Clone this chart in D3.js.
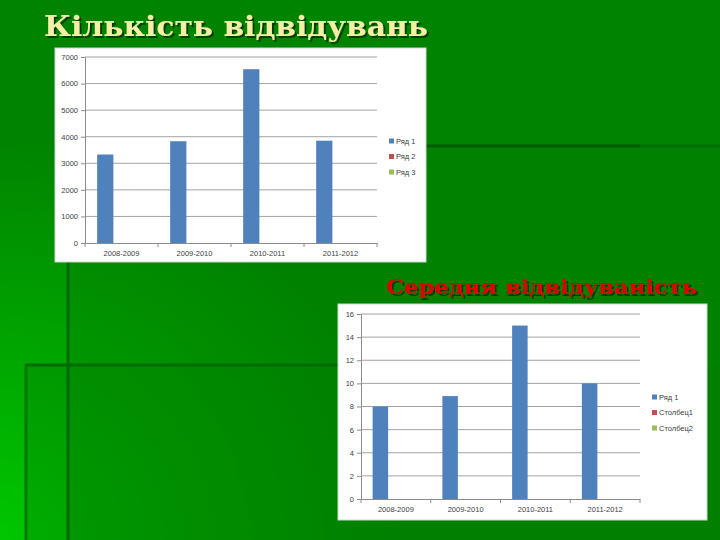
<!DOCTYPE html>
<html><head><meta charset="utf-8">
<script src="https://cdn.jsdelivr.net/npm/d3@7"></script>
<style>html,body{margin:0;padding:0;background:#008400;}svg{display:block;}</style>
</head><body>
<script>
// ---- data ----
const title1 = "Кількість відвідувань";
const title2 = "Середня відвідуваність";
const categories = ["2008-2009", "2009-2010", "2010-2011", "2011-2012"];
const visits = [3330, 3830, 6540, 3850];
const avgAttendance = [8, 8.9, 15, 10];
const visitsTicks = [0, 1000, 2000, 3000, 4000, 5000, 6000, 7000];
const avgTicks = [0, 2, 4, 6, 8, 10, 12, 14, 16];
const legend1 = ["Ряд 1", "Ряд 2", "Ряд 3"];
const legend2 = ["Ряд 1", "Столбец1", "Столбец2"];
const seriesColors = ["#4F81BD", "#C0504D", "#9BBB59"];

const W = 720, H = 540;
const svg = d3.select("body").append("svg").attr("width", W).attr("height", H);
const defs = svg.append("defs");

// background gradient
const rg = defs.append("radialGradient").attr("id", "bg")
  .attr("gradientUnits", "userSpaceOnUse").attr("cx", 0).attr("cy", 540).attr("r", 400);
rg.append("stop").attr("offset", "0").attr("stop-color", "#00cc00");
rg.append("stop").attr("offset", "0.45").attr("stop-color", "#00aa00");
rg.append("stop").attr("offset", "1").attr("stop-color", "#008400");
const lg = defs.append("linearGradient").attr("id", "bgTop").attr("x1", 0).attr("y1", 0).attr("x2", 0).attr("y2", 1);
lg.append("stop").attr("offset", "0").attr("stop-color", "#007c00");
lg.append("stop").attr("offset", "1").attr("stop-color", "#009600");
const sh = defs.append("filter").attr("id", "shadow").attr("x", "-5%").attr("y", "-20%").attr("width", "115%").attr("height", "150%");
sh.append("feDropShadow").attr("dx", 2).attr("dy", 2).attr("stdDeviation", 0.6)
  .attr("flood-color", "#003000").attr("flood-opacity", 0.85);

svg.append("rect").attr("width", W).attr("height", H).attr("fill", "url(#bgTop)");
svg.append("rect").attr("width", W).attr("height", H).attr("fill", "url(#bg)").attr("opacity", 0.9);
// overlay panels
svg.append("rect").attr("x", 67).attr("y", 146).attr("width", W - 67).attr("height", H - 146)
  .attr("fill", "#007a00").attr("opacity", 0.35);
svg.append("rect").attr("x", 25).attr("y", 365).attr("width", W - 25).attr("height", H - 365)
  .attr("fill", "#007a00").attr("opacity", 0.3);
// decorative lines
svg.append("line").attr("x1", 67).attr("x2", 640).attr("y1", 146).attr("y2", 146)
  .attr("stroke", "#005a00").attr("stroke-width", 3);
svg.append("line").attr("x1", 640).attr("x2", 720).attr("y1", 146).attr("y2", 146)
  .attr("stroke", "#006e00").attr("stroke-width", 3);
svg.append("line").attr("x1", 68).attr("x2", 68).attr("y1", 146).attr("y2", 540)
  .attr("stroke", "#006800").attr("stroke-width", 3);
svg.append("line").attr("x1", 25).attr("x2", 340).attr("y1", 365).attr("y2", 365)
  .attr("stroke", "#006c00").attr("stroke-width", 3);
svg.append("line").attr("x1", 26).attr("x2", 26).attr("y1", 365).attr("y2", 540)
  .attr("stroke", "#007800").attr("stroke-width", 3);

// titles
function title(txt, x, y, len, size, fill) {
  svg.append("text").attr("x", x).attr("y", y).text(txt)
    .attr("font-family", "DejaVu Serif").attr("font-weight", "bold").attr("font-size", size)
    .attr("textLength", len).attr("lengthAdjust", "spacingAndGlyphs").attr("fill", fill)
    .attr("filter", "url(#shadow)");
}
title(title1, 44, 36, 384, 27, "#f3f0a6");
title(title2, 386, 294, 311, 20, "#e00000");

function chart(cfg) {
  const g = svg.append("g");
  g.append("rect").attr("x", cfg.box[0]).attr("y", cfg.box[1]).attr("width", cfg.box[2]).attr("height", cfg.box[3])
    .attr("fill", "#ffffff").attr("stroke", "#cfd8cf").attr("stroke-width", 1);
  const y = d3.scaleLinear().domain([0, cfg.ticks[cfg.ticks.length - 1]]).range([cfg.y0, cfg.y1]);
  const x = d3.scaleBand().domain(categories).range([cfg.x0, cfg.x1]).padding(0);
  // gridlines
  g.selectAll(".grid").data(cfg.ticks.slice(1)).enter().append("line")
    .attr("x1", cfg.x0).attr("x2", cfg.x1).attr("y1", d => y(d)).attr("y2", d => y(d))
    .attr("stroke", "#8c8c8c").attr("stroke-width", 0.8);
  // y axis
  const ya = g.append("g").attr("transform", `translate(${cfg.x0},0)`)
    .call(d3.axisLeft(y).tickValues(cfg.ticks).tickSize(4).tickPadding(3).tickFormat(d3.format("d")));
  ya.select(".domain").attr("stroke", "#8c8c8c");
  ya.selectAll(".tick line").attr("stroke", "#8c8c8c");
  ya.selectAll("text").attr("font-family", "Liberation Sans, Arial, sans-serif").attr("font-size", 7.5).attr("fill", "#404040");
  // x axis
  const xa = g.append("g").attr("transform", `translate(0,${cfg.y0})`)
    .call(d3.axisBottom(x).tickSize(0).tickPadding(8));
  xa.select(".domain").attr("stroke", "#8c8c8c");
  xa.selectAll("text").attr("font-family", "Liberation Sans, Arial, sans-serif").attr("font-size", 7.5).attr("fill", "#404040");
  // category boundary ticks
  g.selectAll(".bt").data(categories.concat(["end"])).enter().append("line")
    .attr("x1", (d, i) => cfg.x0 + i * x.bandwidth()).attr("x2", (d, i) => cfg.x0 + i * x.bandwidth())
    .attr("y1", cfg.y0).attr("y2", cfg.y0 + 4).attr("stroke", "#8c8c8c");
  // bars
  const bw = x.bandwidth() / 4.5;
  g.selectAll(".bar").data(cfg.values).enter().append("rect")
    .attr("x", (d, i) => x(categories[i]) + bw * 0.75).attr("width", bw)
    .attr("y", d => y(d)).attr("height", d => y(0) - y(d))
    .attr("fill", seriesColors[0]);
  // legend
  cfg.legend.forEach((name, i) => {
    const ly = cfg.ly + i * cfg.lstep;
    g.append("rect").attr("x", cfg.lx).attr("y", ly - 2.5).attr("width", 5).attr("height", 5).attr("fill", seriesColors[i]);
    g.append("text").attr("x", cfg.lx + 7).attr("y", ly + 2.7).text(name)
      .attr("font-family", "Liberation Sans, Arial, sans-serif").attr("font-size", 7.5).attr("fill", "#404040");
  });
}

chart({box: [55, 48, 371, 214], x0: 85, x1: 377, y0: 243, y1: 57, ticks: visitsTicks, values: visits,
  legend: legend1, lx: 389, ly: 141, lstep: 15.5});
chart({box: [338, 304, 369, 216], x0: 361, x1: 640, y0: 499, y1: 314, ticks: avgTicks, values: avgAttendance,
  legend: legend2, lx: 652, ly: 397, lstep: 15.5});
</script>
</body></html>
